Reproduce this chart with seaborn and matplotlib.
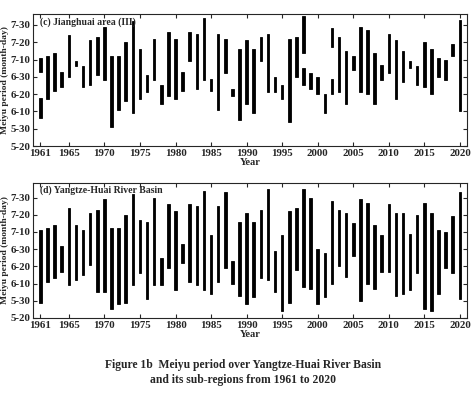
import matplotlib
matplotlib.use("Agg")
import matplotlib.pyplot as plt
import pandas as pd
import seaborn as sns
import numpy as np

years = list(range(1961, 2021))

# day-of-year scale, 10 units per tick (5-20 = 140 ... 7-30 = 210)
jh_start = [183, 167, 172, 174, 180, 186, 174, 175, 181, 178,
            151, 161, 166, 159, 167, 171, 178, 164, 169, 167,
            172, 189, 173, 178, 172, 161, 182, 169, 155, 164,
            159, 189, 171, 171, 167, 154, 180, 194, 173, 170,
            159, 197, 171, 164, 184, 171, 170, 164, 178, 182,
            167, 177, 185, 175, 174, 170, 180, 178, 192, 160]
jh_end = [191, 192, 194, 183, 204, 189, 186, 201, 203, 209,
          192, 192, 200, 212, 196, 181, 202, 175, 206, 202,
          183, 206, 205, 214, 179, 205, 202, 173, 196, 201,
          196, 203, 205, 180, 175, 202, 203, 215, 182, 180,
          170, 208, 203, 195, 192, 209, 207, 194, 187, 205,
          201, 195, 189, 186, 200, 196, 191, 190, 199, 213]

# second Meiyu periods in the Jianghuai area
jh2_years = [1961, 1998, 2002]
jh2_start = [156, 175, 170]
jh2_end = [168, 185, 179]

yh_start = [149, 161, 163, 167, 159, 162, 165, 171, 155, 155,
            145, 148, 149, 159, 166, 151, 159, 159, 169, 156,
            172, 161, 159, 156, 154, 161, 169, 160, 153, 148,
            152, 163, 162, 155, 144, 149, 168, 158, 157, 148,
            152, 160, 170, 164, 176, 150, 160, 157, 167, 167,
            153, 154, 156, 166, 145, 144, 154, 169, 166, 151]
yh_end = [191, 192, 194, 182, 204, 194, 191, 201, 203, 209,
          192, 192, 200, 212, 197, 196, 210, 175, 206, 202,
          183, 206, 205, 214, 188, 205, 213, 173, 196, 201,
          196, 203, 215, 179, 188, 202, 204, 215, 210, 180,
          178, 208, 203, 201, 195, 209, 207, 194, 188, 206,
          201, 201, 189, 200, 207, 201, 191, 190, 199, 213]

tick_days = [140, 150, 160, 170, 180, 190, 200, 210]
tick_labels = ["5-20", "5-30", "6-10", "6-20", "6-30", "7-10", "7-20", "7-30"]
year_ticks = [1961, 1965, 1970, 1975, 1980, 1985, 1990, 1995, 2000, 2005, 2010, 2015, 2020]


def draw_panel(ax, start, end, label, top):
    df = pd.DataFrame({"Year": years, "Start": start,
                       "Length": np.array(end) - np.array(start)})
    sns.barplot(data=df, x="Year", y="Length", bottom=df["Start"], native_scale=True,
                width=0.36, color="black", saturation=1, errorbar=None,
                edgecolor="black", linewidth=0.6, ax=ax)
    ax.set_xlim(1960, 2021)
    ax.set_ylim(140, top)
    ax.set_xticks(year_ticks)
    ax.set_yticks(tick_days)
    ax.set_yticklabels(tick_labels)
    ax.tick_params(direction="in", top=True, right=True, length=3, width=0.8,
                   labelsize=7.8, pad=2)
    ax.set_xlabel("Year", fontsize=7.5, labelpad=0)
    ax.set_ylabel("Meiyu period (month-day)", fontsize=6.8, labelpad=1)
    ax.text(1961.0, top - 4.5, label, fontsize=7, fontweight="bold", va="center")
    for s in ax.spines.values():
        s.set_linewidth(0.8)


sns.set_style("ticks")
plt.rcParams["font.family"] = ["Liberation Serif", "DejaVu Serif"]
plt.rcParams["font.weight"] = "bold"
plt.rcParams["axes.labelweight"] = "bold"

fig = plt.figure(figsize=(4.74, 3.94), dpi=100)
ax1 = fig.add_axes([0.0703, 0.6294, 0.9149, 0.335])
ax2 = fig.add_axes([0.0703, 0.1929, 0.9149, 0.3434])

draw_panel(ax1, jh_start, jh_end, "(c) Jianghuai area (III)", 216.3)
ax1.bar(jh2_years, np.array(jh2_end) - np.array(jh2_start), bottom=jh2_start,
        width=0.36, color="black", edgecolor="black", linewidth=0.6)
draw_panel(ax2, yh_start, yh_end, "(d) Yangtze-Huai River Basin", 218.6)

fig.text(0.513, 0.055, "Figure 1b  Meiyu period over Yangtze-Huai River Basin\n"
         "and its sub-regions from 1961 to 2020",
         ha="center", va="center", fontsize=8.4, fontweight="bold", linespacing=1.3)

fig.savefig("out.png", dpi=100)
